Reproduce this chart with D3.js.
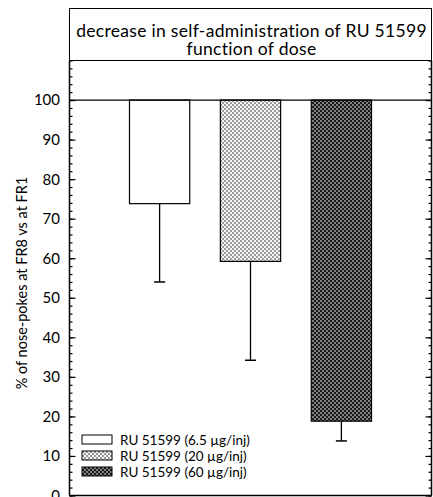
<!DOCTYPE html>
<html>
<head>
<meta charset="utf-8">
<script src="https://cdn.jsdelivr.net/npm/d3@7"></script>
<style>
  body { margin: 0; background: #fff; }
  svg { display: block; font-family: 'Lato', 'Open Sans', sans-serif; }
</style>
</head>
<body>
<div id="chart"></div>
<script>
const doses = ['RU 51599 (6.5 µg/inj)', 'RU 51599 (20 µg/inj)', 'RU 51599 (60 µg/inj)'];
const means = [73.8, 59.2, 18.8];
const errLow = [54.0, 34.2, 13.8];
const yTicks = [0, 10, 20, 30, 40, 50, 60, 70, 80, 90, 100];
const titleLines = ['decrease in self-administration of RU 51599', 'function of dose'];

const width = 433, height = 497;
const plotL = 69.5, plotR = 431.5, plotT = 60.5, plotB = 495.5;

const svg = d3.select('#chart').append('svg')
    .attr('width', width)
    .attr('height', height);

const defs = svg.append('defs');
// dotted fills like the original print
function checker(id, bg, fg) {
    const p = defs.append('pattern')
        .attr('id', id)
        .attr('width', 4).attr('height', 4)
        .attr('patternUnits', 'userSpaceOnUse');
    p.append('rect').attr('width', 4).attr('height', 4).attr('fill', bg);
    p.append('rect').attr('width', 2).attr('height', 2).attr('fill', fg);
    p.append('rect').attr('x', 2).attr('y', 2).attr('width', 2).attr('height', 2).attr('fill', fg);
}
checker('light', '#f4f4f4', '#9a9a9a');
checker('dark', '#1a1a1a', '#808080');
const fills = ['#fff', 'url(#light)', 'url(#dark)'];

const x = d3.scaleBand()
    .domain(doses)
    .range([plotL, plotR])
    .paddingInner(0.337)
    .paddingOuter(0.66);

const y = d3.scaleLinear()
    .domain([0, 110])
    .range([plotB, plotT]);

// title box
svg.append('rect')
    .attr('x', plotL).attr('y', 8.5)
    .attr('width', plotR - plotL).attr('height', plotT - 8.5)
    .attr('fill', 'none').attr('stroke', '#000');

svg.append('text')
    .attr('text-anchor', 'middle')
    .attr('font-size', 17.5)
    .attr('letter-spacing', 0.3)
    .selectAll('tspan')
    .data(titleLines)
    .join('tspan')
    .attr('x', (plotL + plotR) / 2 + 1)
    .attr('y', (d, i) => 36.5 + i * 18)
    .text(d => d);

// minor + major ticks
const minor = d3.range(0, 111, 2);
svg.append('g')
    .attr('transform', `translate(${plotL},0)`)
    .call(d3.axisRight(y).tickValues(minor).tickSize(3).tickFormat(''))
    .select('.domain').remove();
svg.append('g')
    .attr('transform', `translate(${plotL},0)`)
    .call(d3.axisRight(y).tickValues(yTicks).tickSize(6).tickFormat(''))
    .select('.domain').remove();

svg.append('g')
    .attr('transform', `translate(${plotR},0)`)
    .call(d3.axisLeft(y).tickValues(minor).tickSize(3).tickFormat(''))
    .select('.domain').remove();
svg.append('g')
    .attr('transform', `translate(${plotR},0)`)
    .call(d3.axisLeft(y).tickValues(yTicks).tickSize(6).tickFormat(''))
    .select('.domain').remove();

svg.selectAll('.tick line').attr('stroke', '#000').attr('stroke-width', 1.2);

svg.append('g').selectAll('text')
    .data(yTicks)
    .join('text')
    .attr('x', 60)
    .attr('y', d => y(d))
    .attr('dy', '0.36em')
    .attr('text-anchor', 'end')
    .attr('font-size', 15)
    .text(d => d);

// frame
svg.append('line').attr('x1', plotL).attr('x2', plotL).attr('y1', plotT).attr('y2', plotB).attr('stroke', '#000').attr('stroke-width', 1.5);
svg.append('line').attr('x1', plotR).attr('x2', plotR).attr('y1', plotT).attr('y2', plotB).attr('stroke', '#000').attr('stroke-width', 1.5);
svg.append('line').attr('x1', plotL).attr('x2', plotR).attr('y1', plotB).attr('y2', plotB).attr('stroke', '#000').attr('stroke-width', 1.5);

svg.append('text')
    .attr('transform', `translate(27,283) rotate(-90)`)
    .attr('text-anchor', 'middle')
    .attr('font-size', 14.5)
    .text('% of nose-pokes at FR8 vs at FR1');

// error bars (downward only)
const err = svg.append('g');
doses.forEach((d, i) => {
    const cx = x(d) + x.bandwidth() / 2;
    err.append('line')
        .attr('x1', cx).attr('x2', cx)
        .attr('y1', y(means[i])).attr('y2', y(errLow[i]))
        .attr('stroke', '#000').attr('stroke-width', 1.3);
    err.append('line')
        .attr('x1', cx - 5.5).attr('x2', cx + 5.5)
        .attr('y1', y(errLow[i])).attr('y2', y(errLow[i]))
        .attr('stroke', '#000').attr('stroke-width', 1.5);
});

// bars hang from 100
svg.append('g').selectAll('rect')
    .data(doses)
    .join('rect')
    .attr('x', d => x(d))
    .attr('y', y(100))
    .attr('width', x.bandwidth())
    .attr('height', (d, i) => y(means[i]) - y(100))
    .attr('fill', (d, i) => fills[i])
    .attr('stroke', '#000')
    .attr('stroke-width', 1.2);

svg.append('line')
    .attr('x1', plotL).attr('x2', plotR)
    .attr('y1', y(100)).attr('y2', y(100))
    .attr('stroke', '#000').attr('stroke-width', 1.2);

// legend
const legend = svg.append('g').selectAll('g')
    .data(doses)
    .join('g')
    .attr('transform', (d, i) => `translate(82,${435 + i * 16})`);
legend.append('rect')
    .attr('width', 30).attr('height', 9)
    .attr('fill', (d, i) => fills[i])
    .attr('stroke', '#000');
legend.append('text')
    .attr('x', 38).attr('y', 9.5)
    .attr('font-size', 13.5)
    .text(d => d);
</script>
</body>
</html>
